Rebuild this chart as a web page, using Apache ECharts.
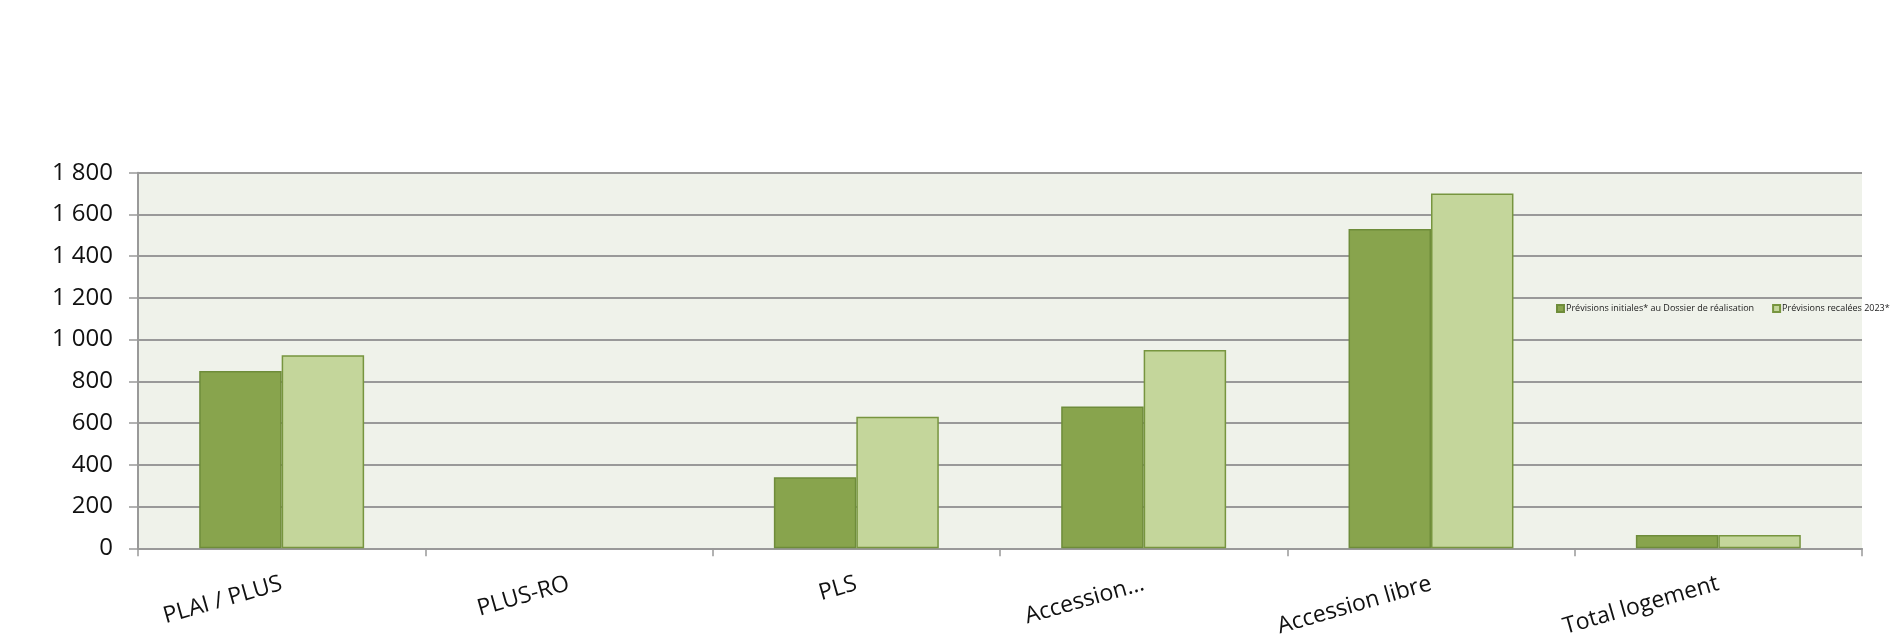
<!DOCTYPE html>
<html>
<head>
<meta charset="utf-8">
<script src="https://cdn.jsdelivr.net/npm/echarts@6/dist/echarts.min.js"></script>
<style>
html,body{margin:0;padding:0;background:#fff;}
#chart{width:1891px;height:636px;}
</style>
</head>
<body>
<div id="chart"></div>
<script>
const categories = ['PLAI / PLUS', 'PLUS-RO', 'PLS', 'Accession…', 'Accession libre', 'Total logement'];
const seriesNames = ['Prévisions initiales* au Dossier de réalisation', 'Prévisions recalées 2023*'];
const initiales = [850, null, 340, 680, 1530, 64];
const recalees = [925, null, 630, 950, 1700, 64];
const yTicks = [0, 200, 400, 600, 800, 1000, 1200, 1400, 1600, 1800];

function fmt(v){ return String(v).replace(/\B(?=(\d{3})+(?!\d))/g, ' '); }

const chart = echarts.init(document.getElementById('chart'), null, {renderer:'canvas'});
chart.setOption({
  animation:false,
  textStyle:{fontFamily:'Open Sans'},
  grid:{left:138, right:29, top:172.7, bottom:87.7, containLabel:false, outerBoundsMode:'none',
        show:true, backgroundColor:'#eff2ea', borderWidth:0},
  legend:{
    left:1556, top:304, width:340, orient:'horizontal', itemWidth:7, itemHeight:7, itemGap:18,
    icon:'rect', padding:0,
    textStyle:{fontSize:9, color:'#222', fontFamily:'Open Sans', padding:[0,0,0,-3]},
    data:seriesNames
  },
  xAxis:{
    type:'category', data:categories,
    axisLine:{show:true, lineStyle:{color:'#999', width:2}},
    axisTick:{show:true, length:8, lineStyle:{color:'#999', width:1.5}, alignWithLabel:false},
    axisLabel:{rotate:16, fontSize:23, color:'#111', margin:35, interval:0}
  },
  yAxis:{
    type:'value', min:0, max:1800, interval:200,
    axisLine:{show:true, lineStyle:{color:'#999', width:2}},
    axisTick:{show:true, length:9, lineStyle:{color:'#999', width:1.5}},
    splitLine:{show:true, lineStyle:{color:'#999', width:2}},
    axisLabel:{fontSize:24, color:'#111', margin:25, formatter:function(v){return yTicks.indexOf(v)>=0?fmt(v):'';}}
  },
  series:[
    {name:seriesNames[0], type:'bar', data:initiales, barGap:'0%', barCategoryGap:'42.6%',
     itemStyle:{color:'#88a44d', borderColor:'#6e8c3a', borderWidth:1.5}},
    {name:seriesNames[1], type:'bar', data:recalees, barGap:'0%', barCategoryGap:'42.6%',
     itemStyle:{color:'#c4d69b', borderColor:'#77953f', borderWidth:1.5}}
  ]
});
</script>
</body>
</html>
